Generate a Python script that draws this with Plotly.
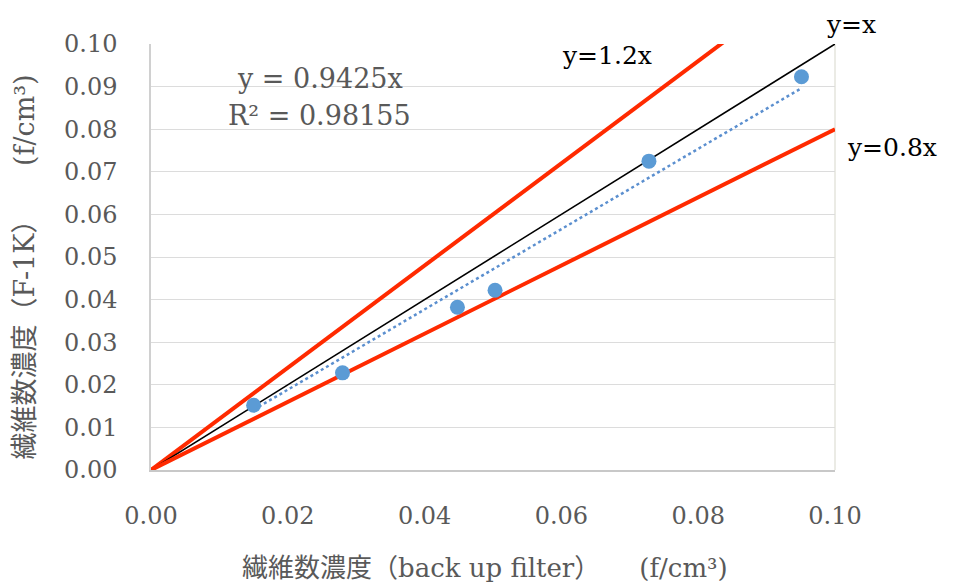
import plotly.graph_objects as go

# Data
backup_filter = [0.0150, 0.0280, 0.0448, 0.0503, 0.0728, 0.0951]   # x (f/cm3)
f1k = [0.0152, 0.0228, 0.0382, 0.0422, 0.0725, 0.0923]             # y (f/cm3)

trend_slope = 0.9425
r_squared = 0.98155
ref_slopes = [1.2, 1.0, 0.8]
ref_names = ["y=1.2x", "y=x", "y=0.8x"]
ref_x = [0.0, 0.1]

x_ticks = [0.00, 0.02, 0.04, 0.06, 0.08, 0.10]
y_ticks = [0.00, 0.01, 0.02, 0.03, 0.04, 0.05, 0.06, 0.07, 0.08, 0.09, 0.10]

SERIF = "DejaVu Serif, Noto Sans CJK JP, serif"
GRAY = "#595959"
RED = "#ff2a00"

fig = go.Figure()

# reference lines
for s, name in zip(ref_slopes, ref_names):
    color = "black" if s == 1.0 else RED
    width = 1.6 if s == 1.0 else 4
    fig.add_trace(go.Scatter(x=ref_x, y=[s * v for v in ref_x], mode="lines",
                             line=dict(color=color, width=width), name=name,
                             showlegend=False, hoverinfo="skip"))

# trendline through origin
tx = [min(backup_filter), max(backup_filter)]
fig.add_trace(go.Scatter(x=tx, y=[trend_slope * v for v in tx], mode="lines",
                         line=dict(color="#5b8fcf", width=2.5, dash="dot"),
                         showlegend=False, hoverinfo="skip"))

# data points
fig.add_trace(go.Scatter(x=backup_filter, y=f1k, mode="markers",
                         marker=dict(color="#5b9bd5", size=15),
                         showlegend=False))

# page body has an 8px margin, so the figure is sized to fit inside the window
fig.update_layout(
    width=950, height=578,
    margin=dict(l=143, r=123, t=36, b=116, pad=0),
    paper_bgcolor="white", plot_bgcolor="white",
    font=dict(family=SERIF, color=GRAY, size=24),
    xaxis=dict(range=[0, 0.1], tickvals=x_ticks, tickformat=".2f",
               showgrid=False, zeroline=False, showline=True,
               linecolor="#c8c8c8", linewidth=1.5, mirror=False,
               ticks="", ticklabelstandoff=23,
               tickfont=dict(family=SERIF, size=24, color=GRAY)),
    yaxis=dict(range=[0, 0.1], tickvals=y_ticks, tickformat=".2f",
               showgrid=True, gridcolor="#dcdcdc", gridwidth=1.2,
               zeroline=False, showline=True,
               linecolor="#d0d0d0", linewidth=1.5, mirror=False,
               ticks="", ticklabelstandoff=27,
               tickfont=dict(family=SERIF, size=24, color=GRAY)),
)

# right border
fig.add_shape(type="line", xref="paper", yref="paper", x0=1, x1=1, y0=0, y1=1,
              line=dict(color="#e4e4dc", width=1.5), layer="below")

ann = []
# equation
ann.append(dict(text=f"y = {trend_slope}x", x=0.247, y=0.918))
ann.append(dict(text=f"R² = {r_squared}", x=0.247, y=0.833))
for a in ann:
    a.update(xref="paper", yref="paper", showarrow=False, xanchor="center",
             yanchor="middle", font=dict(family=SERIF, size=27, color=GRAY))
    fig.add_annotation(**a)

# reference labels
label_pos = {"y=x": (1.023, 1.0845, "top"), "y=1.2x": (0.667, 0.974, "middle"),
             "y=0.8x": (1.083, 0.756, "middle")}
for name in ref_names:
    px, py, ya = label_pos[name]
    fig.add_annotation(text=name, x=px, y=py, xref="paper", yref="paper",
                       showarrow=False, xanchor="center", yanchor=ya,
                       font=dict(family=SERIF, size=25, color="black"))

# axis titles
fig.add_annotation(text="繊維数濃度（back up filter）　　(f/cm³)",
                   x=0.4876, y=-0.2300, xref="paper", yref="paper",
                   showarrow=False, xanchor="center", yanchor="middle",
                   font=dict(family=SERIF, size=26, color=GRAY))
fig.add_annotation(text="繊維数濃度（F-1K）　　(f/cm³)",
                   x=-0.1855, y=0.4754, xref="paper", yref="paper",
                   showarrow=False, xanchor="center", yanchor="middle",
                   textangle=-90,
                   font=dict(family=SERIF, size=27, color=GRAY))

fig.write_html("out.html")
